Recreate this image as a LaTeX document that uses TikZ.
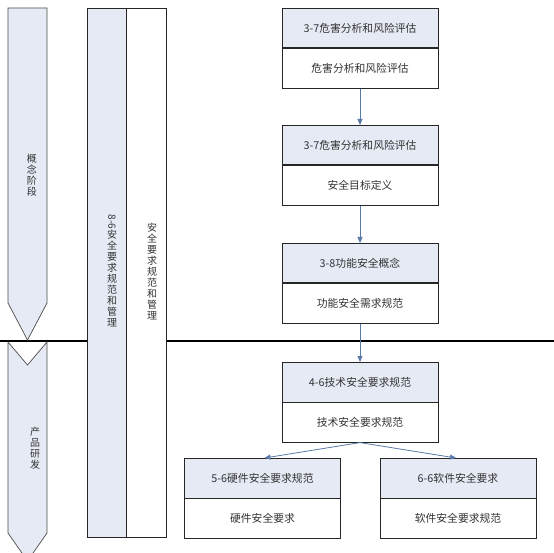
\documentclass[tikz,border=0pt]{standalone}
\usepackage{fontspec}
\setmainfont{Noto Sans CJK SC}
\usetikzlibrary{arrows.meta}
\definecolor{hdr}{HTML}{E6EAF5}
\definecolor{lnk}{HTML}{5A78A8}
\definecolor{txt}{HTML}{333333}
\begin{document}
\begin{tikzpicture}[x=1pt,y=-1pt,
  hbox/.style={draw=black!85, line width=0.8pt, fill=hdr, minimum height=39.5pt, inner sep=0pt, font=\fontsize{10.8}{12}\selectfont, text=txt, anchor=north},
  bbox/.style={hbox, fill=white},
  link/.style={draw=lnk, line width=0.8pt, -{Triangle[length=6pt,width=5pt]}},
  vtext/.style={align=center, inner sep=0pt, font=\fontsize{10}{11}\selectfont, text=txt},
  stage/.style={draw=black!70, line width=0.7pt, fill=hdr}]
\clip (0,0) rectangle (554,553);
\fill[white] (0,0) rectangle (554,553);
% phase divider
\draw[line width=2pt, black] (0,341) -- (554,341);
% stage arrows
\path[stage] (8,8) -- (47,8) -- (47,303) -- (27.5,340) -- (8,303) -- cycle;
\path[stage] (8,342) -- (27.5,365) -- (47,342) -- (47,533) -- (27.5,561) -- (8,533) -- cycle;
\node[vtext] (s1) at (32,175) {概\\念\\阶\\段};
\node[vtext] (s2) at (35,448) {产\\品\\研\\发};
% management columns
\path[draw=black!85, line width=0.8pt, fill=hdr] (87,8) rectangle (126,537);
\path[draw=black!85, line width=0.8pt, fill=white] (126,8) rectangle (166,537);
\node[vtext] (m1) at (112,271) {\rotatebox{-90}{8-6}\\安\\全\\要\\求\\规\\范\\和\\管\\理};
\node[vtext] (m2) at (152,272) {安\\全\\要\\求\\规\\范\\和\\管\\理};
% boxes
\begin{scope}[every node/.append style={minimum width=156pt}]
\node[hbox] (b1t) at (360,8) {3-7危害分析和风险评估};
\node[bbox] (b1b) at (b1t.south) {危害分析和风险评估};
\node[hbox] (b2t) at (360,125) {3-7危害分析和风险评估};
\node[bbox] (b2b) at (b2t.south) {安全目标定义};
\node[hbox] (b3t) at (360,243) {3-8功能安全概念};
\node[bbox] (b3b) at (b3t.south) {功能安全需求规范};
\node[hbox] (b4t) at (360,362) {4-6技术安全要求规范};
\node[bbox] (b4b) at (b4t.south) {技术安全要求规范};
\node[hbox] (b5t) at (262.5,458) {5-6硬件安全要求规范};
\node[bbox] (b5b) at (b5t.south) {硬件安全要求};
\node[hbox] (b6t) at (458,458) {6-6软件安全要求};
\node[bbox] (b6b) at (b6t.south) {软件安全要求规范};
\end{scope}
% links
\draw[link] (b1b.south) -- (b2t.north);
\draw[link] (b2b.south) -- (b3t.north);
\draw[link] (b3b.south) -- (b4t.north);
\draw[link] (b4b.south) -- ([xshift=2pt]b5t.north);
\draw[link] (b4b.south) -- ([xshift=-2pt]b6t.north);
\end{tikzpicture}
\end{document}
